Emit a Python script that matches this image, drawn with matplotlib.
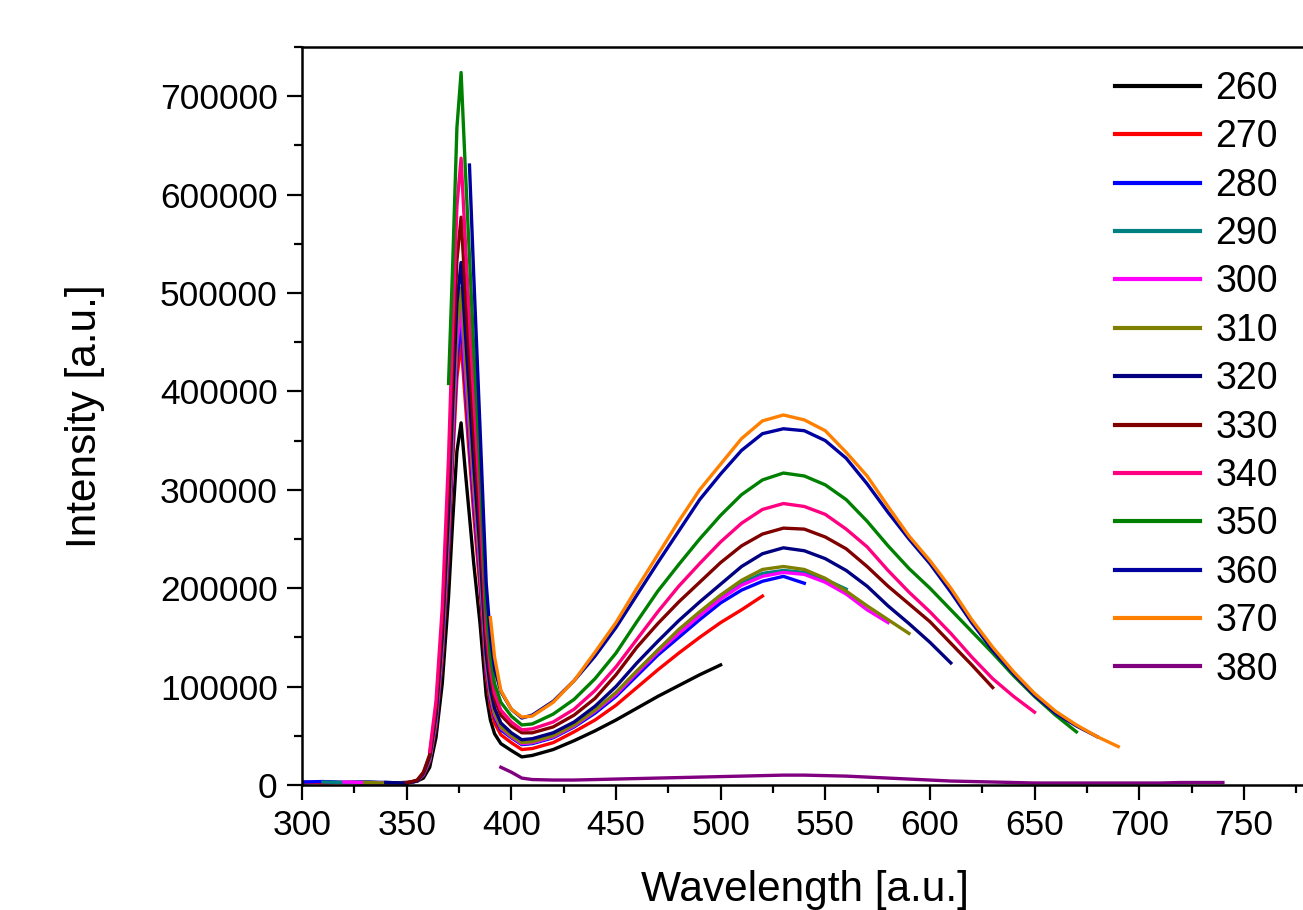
import numpy as np
import matplotlib
matplotlib.use("Agg")
import matplotlib.pyplot as plt
from matplotlib.ticker import MultipleLocator, ScalarFormatter

plt.rcParams['font.family'] = ['Liberation Sans', 'DejaVu Sans']

# wavelength grid (nm): flat part, exciton peak, broad band
wl = ([280, 290, 300, 310, 320, 330, 340, 350] +
      [355, 358, 361, 364, 367, 370, 372, 374, 376, 378, 380, 382, 385, 388, 390, 392, 395, 400, 405] +
      list(range(410, 750, 10)))

N = None
# intensities in thousands, None = not measured; grouped flat | peak | 410..740
i260 = ([2, 2.5, 2, 3, 2.5, 2, 2.5, 2] +
        [4, 7, 18, 48, 103, 191, 269, 339, 368, 319, 273, 226, 165, 91, 66, 52, 42, 35, 28.5] +
        [30, 36, 45, 55, 66, 78, 90, 101, 112, 122] + [N] * 24)
i270 = ([N, 2.5, 3, 2, 2.5, 3, 2, 2.5] +
        [4, 10, 24, 60, 128, 236, 330, 414, 450, 390, 333, 276, 201, 111, 80, 63, 51, 43, 36] +
        [37, 43, 54, 66, 81, 99, 117, 134, 150, 165, 178, 192] + [N] * 22)
i280 = ([N, N, 3, 3.5, 2.5, 3, 2.5, 2] +
        [4, 11, 25, 63, 134, 246, 345, 434, 470, 409, 349, 290, 213, 118, 87, 69, 56, 48, 41] +
        [42, 48, 59, 73, 90, 111, 132, 150, 168, 185, 198, 207, 212, 205] + [N] * 20)
i290 = ([N, N, N, 3, 2.5, 3, 2, 2.5] +
        [4, 11, 26, 66, 140, 257, 361, 454, 492, 427, 365, 304, 222, 123, 90, 72, 58, 49, 42] +
        [43, 49, 60, 75, 93, 115, 137, 156, 174, 191, 205, 215, 218, 216, 209, 199] + [N] * 18)
i300 = ([N, N, N, N, 3, 2.5, 2, 2.5] +
        [4, 11, 26, 65, 138, 253, 356, 448, 485, 421, 361, 300, 219, 121, 90, 71, 58, 49, 42] +
        [43, 49, 60, 75, 92, 114, 135, 154, 172, 189, 203, 212, 216, 214, 206, 194, 178, 165] + [N] * 16)
i310 = ([N, N, N, N, N, 2.5, 2, 2.5] +
        [4, 12, 27, 68, 143, 264, 370, 466, 505, 438, 375, 311, 228, 126, 93, 73, 59, 50, 43] +
        [44, 50, 61, 76, 94, 116, 137, 158, 176, 193, 208, 219, 222, 219, 210, 197, 182, 168, 154] + [N] * 15)
i320 = ([N, N, N, N, N, N, 2.5, 2] +
        [4, 12, 29, 71, 151, 278, 389, 490, 531, 461, 395, 327, 240, 133, 98, 78, 63, 53, 46] +
        [47, 53, 64, 80, 100, 124, 146, 167, 186, 204, 222, 235, 241, 238, 230, 218, 202, 182, 164,
         145, 124] + [N] * 13)
i330 = ([N, N, N, N, N, N, N, 2] +
        [5, 13, 31, 77, 163, 302, 423, 533, 577, 502, 430, 358, 263, 147, 109, 87, 71, 60, 53] +
        [53, 59, 71, 88, 112, 140, 164, 186, 206, 226, 243, 255, 261, 260, 252, 240, 222, 202, 184,
         166, 144, 122, 99] + [N] * 11)
i340 = ([N] * 8 +
        [N, N, 34, 85, 180, 333, 466, 588, 637, 553, 474, 394, 289, 160, 118, 93, 76, 64, 56] +
        [57, 64, 77, 96, 120, 148, 176, 202, 225, 247, 266, 280, 286, 283, 275, 260, 242, 218, 196,
         176, 154, 130, 108, 90, 74] + [N] * 9)
i350 = ([N] * 8 +
        [N, N, N, N, N, 408, 530, 668, 724, 627, 537, 445, 325, 179, 130, 103, 84, 70, 61] +
        [62, 72, 87, 108, 134, 166, 197, 224, 250, 274, 295, 310, 317, 314, 305, 290, 268, 243, 220,
         200, 178, 156, 134, 111, 90, 71, 54] + [N] * 7)
i360 = ([N] * 8 +
        [N, N, N, N, N, N, N, N, N, N, 630, 520, 365, 205, 150, 118, 95, 77, 68] +
        [71, 85, 106, 131, 160, 193, 226, 258, 290, 316, 340, 357, 362, 360, 350, 332, 306, 277, 250,
         225, 196, 165, 137, 113, 91, 73, 60, 49] + [N] * 6)
i370 = ([N] * 8 +
        [N, N, N, N, N, N, N, N, N, N, N, N, N, N, 170, 130, 96, 77, 69] +
        [70, 84, 106, 135, 165, 200, 234, 268, 300, 326, 352, 370, 376, 371, 360, 338, 314, 283, 253,
         228, 200, 168, 140, 115, 93, 75, 61, 49, 39] + [N] * 5)
i380 = ([N] * 8 +
        [N, N, N, N, N, N, N, N, N, N, N, N, N, N, N, N, 18, 13, 7] +
        [5.5, 5, 5, 5.5, 6, 6.5, 7, 7.5, 8, 8.5, 9, 9.5, 10, 10, 9.5, 9, 8, 7, 6,
         5, 4, 3.5, 3, 2.5, 2, 2, 2, 2, 2, 2, 2, 2.5, 2.5, 2.5])

series = [i260, i270, i280, i290, i300, i310, i320, i330, i340, i350, i360, i370, i380]
labels = ['260', '270', '280', '290', '300', '310', '320', '330', '340', '350', '360', '370', '380']
colors = ['#000000', '#FF0000', '#0000FF', '#008080', '#FF00FF', '#808000', '#000080',
          '#800000', '#FF0080', '#008000', '#0000A0', '#FF8000', '#800080']
xticks = [300, 350, 400, 450, 500, 550, 600, 650, 700, 750]

fig = plt.figure(figsize=(13.03, 9.10), dpi=100)
ax = fig.add_axes([0.2318, 0.1374, 0.8031, 0.811])

x = np.array(wl, dtype=float)
for vals, lab, col in zip(series, labels, colors):
    y = np.array(vals, dtype=float) * 1000
    ax.plot(x, y, color=col, lw=2.4, label=lab)

ax.set_xlim(300, 800)
ax.set_ylim(0, 750000)
ax.set_xticks(xticks)
ax.xaxis.set_minor_locator(MultipleLocator(25))
ax.yaxis.set_major_locator(MultipleLocator(100000))
ax.yaxis.set_minor_locator(MultipleLocator(50000))
fmt = ScalarFormatter(useOffset=False)
fmt.set_scientific(False)
ax.yaxis.set_major_formatter(fmt)

ax.tick_params(which='both', direction='out', width=1.6, top=False, right=False)
ax.tick_params(which='major', length=10.5, labelsize=25.5, pad=7)
ax.tick_params(which='minor', length=5.5)
for s in ax.spines.values():
    s.set_linewidth(1.8)

ax.set_xlabel('Wavelength [a.u.]', fontsize=30.5, va='center')
ax.xaxis.set_label_coords(0.481, -0.142)
ax.set_ylabel('Intensity [a.u.]', fontsize=30.5, va='center')
ax.yaxis.set_label_coords(-0.207, 0.5)

leg = ax.legend(loc='upper left', bbox_to_anchor=(1115 / 1303, 1 - 71 / 910),
                bbox_transform=fig.transFigure, frameon=False, fontsize=27,
                handlelength=2.27, handletextpad=0.4, labelspacing=0.33,
                borderpad=0, borderaxespad=0)
for h in leg.get_lines():
    h.set_linewidth(3)

fig.savefig('out.png', dpi=100)
